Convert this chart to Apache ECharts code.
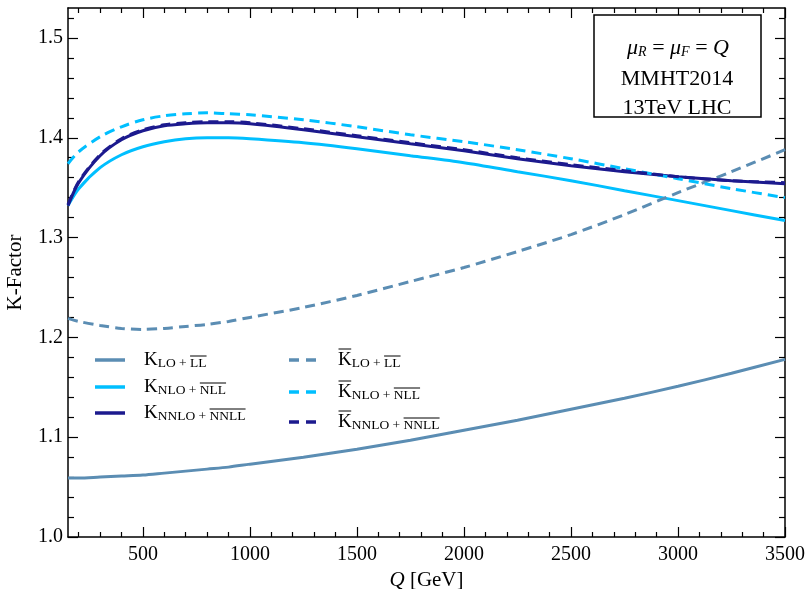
<!DOCTYPE html>
<html><head><meta charset="utf-8">
<script src="https://cdn.jsdelivr.net/npm/echarts@6/dist/echarts.min.js"></script>
<style>html,body{margin:0;padding:0;background:#fff}#c{width:808px;height:589px}</style>
</head><body><div id="c"></div>
<script>
const Q = [150,200,300,400,500,600,700,800,900,1000,1250,1500,1750,2000,2250,2500,2750,3000,3250,3500];
const K_LO      = [1.059,1.059,1.060,1.061,1.062,1.064,1.066,1.068,1.070,1.073,1.080,1.088,1.097,1.107,1.117,1.128,1.139,1.151,1.164,1.178];
const Kbar_LO   = [1.219,1.216,1.212,1.209,1.208,1.209,1.211,1.213,1.216,1.220,1.230,1.242,1.256,1.270,1.286,1.303,1.323,1.345,1.366,1.388];
const K_NLO     = [1.332,1.349,1.370,1.383,1.391,1.396,1.399,1.400,1.400,1.399,1.395,1.389,1.382,1.375,1.366,1.357,1.347,1.337,1.327,1.317];
const Kbar_NLO  = [1.374,1.386,1.401,1.411,1.418,1.422,1.424,1.425,1.424,1.423,1.418,1.411,1.403,1.396,1.388,1.379,1.369,1.359,1.349,1.340];
const K_NNLO    = [1.332,1.355,1.382,1.398,1.407,1.412,1.414,1.415,1.415,1.414,1.408,1.401,1.394,1.387,1.379,1.372,1.366,1.361,1.357,1.354];
const Kbar_NNLO = [1.333,1.356,1.383,1.399,1.408,1.413,1.415,1.416,1.416,1.415,1.409,1.402,1.395,1.388,1.380,1.373,1.367,1.361,1.357,1.355];
const xMajor = [500,1000,1500,2000,2500,3000,3500];
const xMinor = []; for (let v = 200; v < 3500; v += 100) if (v % 500) xMinor.push(v);
const yMajor = [1.0,1.1,1.2,1.3,1.4,1.5];
const yMinor = [1.02,1.04,1.06,1.08,1.12,1.14,1.16,1.18,1.22,1.24,1.26,1.28,1.32,1.34,1.36,1.38,1.42,1.44,1.46,1.48,1.52];
// legend entries: [series name, bar over K, subscript plain part, subscript overlined part]
const legendEntries = [
  ['K_LO', false, 'LO + ', 'LL'],
  ['K_NLO', false, 'NLO + ', 'NLL'],
  ['K_NNLO', false, 'NNLO + ', 'NNLL'],
  ['Kb_LO', true, 'LO + ', 'LL'],
  ['Kb_NLO', true, 'NLO + ', 'NLL'],
  ['Kb_NNLO', true, 'NNLO + ', 'NNLL']
];
const boxLines = ['MMHT2014', '13TeV LHC'];

const C_LO = '#5b8db3', C_NLO = '#00bfff', C_NNLO = '#1c1a8e';
const FONT = 'Liberation Serif';
const seriesColor = { K_LO: C_LO, K_NLO: C_NLO, K_NNLO: C_NNLO, Kb_LO: C_LO, Kb_NLO: C_NLO, Kb_NNLO: C_NNLO };
const DASH = [10, 6];
const mk = (name, data, dashed) => ({
  name, type: 'line', smooth: 0.3, showSymbol: false, symbol: 'none',
  data: Q.map((q, i) => [q, data[i]]),
  lineStyle: { color: seriesColor[name], width: 3, type: dashed ? DASH : 'solid' },
  itemStyle: { color: seriesColor[name] }, z: dashed ? 3 : 2
});
const axLine = { show: true, onZero: false, lineStyle: { color: '#000', width: 1.5 } };
function xAx(pos, major, vals, showLabel) {
  return {
    type: 'value', min: 150, max: 3500, position: pos, gridIndex: 0,
    axisLine: major ? axLine : { show: false },
    axisTick: { show: true, inside: true, length: major ? 10 : 5, customValues: vals, lineStyle: { color: '#000', width: 1.2 } },
    axisLabel: showLabel ? { show: true, customValues: vals, fontFamily: FONT, fontSize: 20, color: '#000', margin: 8, formatter: v => String(v) } : { show: false },
    splitLine: { show: false }
  };
}
function yAx(pos, major, vals, showLabel) {
  return {
    type: 'value', min: 1.0, max: 1.53, position: pos, gridIndex: 0,
    axisLine: major ? axLine : { show: false },
    axisTick: { show: true, inside: true, length: major ? 10 : 6, customValues: vals, lineStyle: { color: '#000', width: 1.2 } },
    axisLabel: showLabel ? { show: true, customValues: vals, fontFamily: FONT, fontSize: 20, color: '#000', margin: 5, formatter: v => v.toFixed(1) } : { show: false },
    splitLine: { show: false }
  };
}
const xb = xAx('bottom', true, xMajor, true);
xb.name = '{i|Q} [GeV]'; xb.nameLocation = 'middle'; xb.nameGap = 30;
xb.nameTextStyle = { fontFamily: FONT, fontSize: 21, color: '#000', rich: { i: { fontFamily: FONT, fontStyle: 'italic', fontSize: 21, color: '#000' } } };
const yl = yAx('left', true, yMajor, true);
yl.name = 'K-Factor'; yl.nameLocation = 'middle'; yl.nameGap = 42;
yl.nameTextStyle = { fontFamily: FONT, fontSize: 21, color: '#000' };

// text measuring for legend overlines
const mctx = document.createElement('canvas').getContext('2d');
function tw(t, size, italic) { mctx.font = (italic ? 'italic ' : '') + size + 'px "' + FONT + '"'; return mctx.measureText(t).width; }

const graphics = [];
const KS = 19, SS = 13.5;
function legendItem(entry, lineX, textX, rowY) {
  const [name, bar, plain, over] = entry;
  const dashed = name.startsWith('Kb');
  graphics.push({ type: 'line', shape: { x1: lineX, y1: rowY, x2: lineX + 30, y2: rowY }, style: { stroke: seriesColor[name], lineWidth: 3.5, lineDash: dashed ? [10, 7] : null }, z: 20 });
  graphics.push({ type: 'text', x: textX, y: rowY, z: 20, style: { text: 'K', fontFamily: FONT, fontSize: KS, fill: '#000', align: 'left', verticalAlign: 'middle' } });
  const wK = tw('K', KS);
  if (bar) graphics.push({ type: 'line', shape: { x1: textX + 0.5, y1: rowY - 11, x2: textX + wK - 0.5, y2: rowY - 11 }, style: { stroke: '#000', lineWidth: 1 }, z: 20 });
  const sx = textX + wK;
  graphics.push({ type: 'text', x: sx, y: rowY + 3, z: 20, style: { text: plain + over, fontFamily: FONT, fontSize: SS, fill: '#000', align: 'left', verticalAlign: 'middle' } });
  const wp = tw(plain, SS), wo = tw(over, SS);
  graphics.push({ type: 'line', shape: { x1: sx + wp, y1: rowY - 4, x2: sx + wp + wo, y2: rowY - 4 }, style: { stroke: '#000', lineWidth: 1 }, z: 20 });
}
const leftRows = [360, 387, 413], rightRows = [360, 392, 422];
for (let i = 0; i < 3; i++) legendItem(legendEntries[i], 95, 144, leftRows[i]);
for (let i = 0; i < 3; i++) legendItem(legendEntries[i + 3], 289, 338, rightRows[i]);

graphics.push({ type: 'rect', shape: { x: 594, y: 15, width: 167, height: 102 }, style: { fill: '#fff', stroke: '#000', lineWidth: 1.5 }, z: 10 });
graphics.push({ type: 'text', x: 678, y: 48, z: 11, style: { text: '{i|μ}{b|R}{n| = }{i|μ}{b|F}{n| = }{i|Q}', align: 'center', verticalAlign: 'middle',
  rich: { i: { fontFamily: FONT, fontStyle: 'italic', fontSize: 22, color: '#000' }, b: { fontFamily: FONT, fontStyle: 'italic', fontSize: 14, color: '#000', padding: [8, 0, 0, 0] }, n: { fontFamily: FONT, fontSize: 22, color: '#000' } } } });
graphics.push({ type: 'text', x: 677, y: 79, z: 11, style: { text: boxLines[0], align: 'center', verticalAlign: 'middle', fontFamily: FONT, fontSize: 22, fill: '#000' } });
graphics.push({ type: 'text', x: 677, y: 108, z: 11, style: { text: boxLines[1], align: 'center', verticalAlign: 'middle', fontFamily: FONT, fontSize: 22, fill: '#000' } });

const chart = echarts.init(document.getElementById('c'));
chart.setOption({
  backgroundColor: '#fff',
  animation: false,
  grid: { left: 68, right: 23, top: 8, bottom: 52, containLabel: false, outerBoundsMode: 'none' },
  xAxis: [xb, xAx('bottom', false, xMinor, false), xAx('top', true, xMajor, false), xAx('top', false, xMinor, false)],
  yAxis: [yl, yAx('left', false, yMinor, false), yAx('right', true, yMajor, false), yAx('right', false, yMinor, false)],
  graphic: graphics,
  series: [
    mk('K_LO', K_LO, false),
    mk('K_NLO', K_NLO, false),
    mk('K_NNLO', K_NNLO, false),
    mk('Kb_LO', Kbar_LO, true),
    mk('Kb_NLO', Kbar_NLO, true),
    mk('Kb_NNLO', Kbar_NNLO, true)
  ]
});
</script></body></html>
